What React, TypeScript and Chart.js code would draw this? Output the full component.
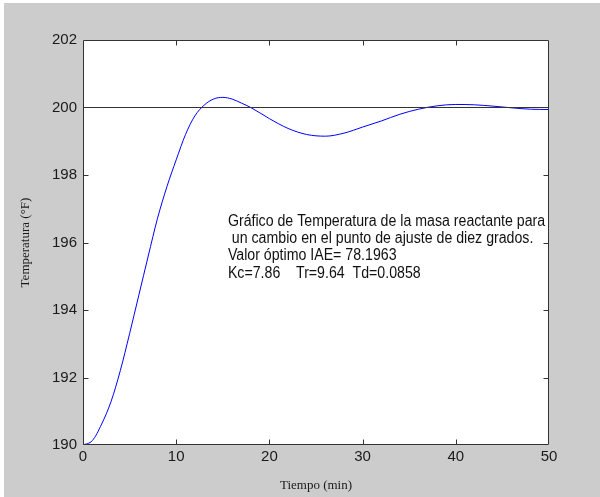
import React, { useEffect, useRef } from 'react';
import { Chart, registerables } from 'chart.js';

Chart.register(...registerables);

// ---- data ----
const timeMin = [0, 1, 2, 3, 4, 5, 6, 7, 8, 9, 10, 11, 12, 13, 14, 15, 16, 17, 18, 20, 22, 24, 26, 28, 30, 32, 34, 36, 38, 40, 42, 44, 46, 48, 50];
const temperatureF = [190.0, 190.13, 190.62, 191.28, 192.2, 193.3, 194.45, 195.6, 196.72, 197.65, 198.45, 199.2, 199.75, 200.07, 200.25, 200.3, 200.25, 200.13, 200.0, 199.67, 199.38, 199.2, 199.15, 199.24, 199.42, 199.6, 199.8, 199.95, 200.05, 200.09, 200.08, 200.04, 199.99, 199.95, 199.94];
const setpointTime = [0, 50];
const setpointValue = [200, 200];
const xTickValues = [0, 10, 20, 30, 40, 50];
const yTickValues = [190, 192, 194, 196, 198, 200, 202];
const xTitle = 'Tiempo (min)';
const yTitle = 'Temperatura (°F)';
const annotationLines = [
  'Gráfico de Temperatura de la masa reactante para',
  ' un cambio en el punto de ajuste de diez grados.',
  'Valor óptimo IAE= 78.1963',
  'Kc=7.86    Tr=9.64  Td=0.0858',
];
const annotationAnchorT = 15.55;
const annotationAnchorTemp = 196.5;

const SANS = "'Liberation Sans', Arial, sans-serif";
const SERIF = "'Liberation Serif', 'Times New Roman', serif";

const framePlugin = {
  id: 'matlabFrame',
  beforeDraw(chart: any) {
    const { ctx, width, height, chartArea } = chart;
    ctx.save();
    ctx.fillStyle = '#ffffff';
    ctx.fillRect(0, 0, width, height);
    ctx.fillStyle = '#cccccc';
    ctx.fillRect(4, 3, width - 4, height - 3);
    ctx.fillStyle = '#ffffff';
    ctx.fillRect(chartArea.left, chartArea.top, chartArea.right - chartArea.left, chartArea.bottom - chartArea.top);
    ctx.restore();
  },
  afterDatasetsDraw(chart: any) {
    const { ctx, chartArea, scales } = chart;
    const xs = scales.x;
    const ys = scales.y;
    const L = Math.round(chartArea.left) + 0.5;
    const R = Math.round(chartArea.right) - 0.5;
    const T = Math.round(chartArea.top) + 0.5;
    const B = Math.round(chartArea.bottom) - 0.5;
    ctx.save();
    ctx.strokeStyle = '#333333';
    ctx.lineWidth = 1;
    ctx.beginPath();
    ctx.rect(L, T, R - L, B - T);
    const tl = 5;
    xTickValues.forEach((v) => {
      if (v === xTickValues[0] || v === xTickValues[xTickValues.length - 1]) return;
      const px = Math.round(xs.getPixelForValue(v)) + 0.5;
      ctx.moveTo(px, B);
      ctx.lineTo(px, B - tl);
      ctx.moveTo(px, T);
      ctx.lineTo(px, T + tl);
    });
    yTickValues.forEach((v) => {
      if (v === yTickValues[0] || v === yTickValues[yTickValues.length - 1]) return;
      const py = Math.round(ys.getPixelForValue(v)) + 0.5;
      ctx.moveTo(L, py);
      ctx.lineTo(L + tl, py);
      ctx.moveTo(R, py);
      ctx.lineTo(R - tl, py);
    });
    ctx.stroke();

    // annotation text (slightly condensed, like the reference)
    ctx.fillStyle = '#111111';
    ctx.font = `16px ${SANS}`;
    ctx.textAlign = 'left';
    ctx.textBaseline = 'alphabetic';
    const ax = xs.getPixelForValue(annotationAnchorT);
    const ay = ys.getPixelForValue(annotationAnchorTemp);
    annotationLines.forEach((line, i) => {
      ctx.save();
      ctx.translate(ax, ay + i * 17.4);
      ctx.scale(0.885, 1);
      ctx.fillText(line, 0, 0);
      ctx.restore();
    });
    ctx.restore();
  },
};

export default function App() {
  const canvasRef = useRef<HTMLCanvasElement | null>(null);

  useEffect(() => {
    const canvas = canvasRef.current;
    if (!canvas) return;
    const chart = new Chart(canvas, {
      type: 'line',
      data: {
        datasets: [
          {
            label: 'Setpoint',
            data: setpointTime.map((t, i) => ({ x: t, y: setpointValue[i] })),
            borderColor: '#333333',
            borderWidth: 1,
            pointRadius: 0,
            fill: false,
          },
          {
            label: 'Temperatura',
            data: timeMin.map((t, i) => ({ x: t, y: temperatureF[i] })),
            borderColor: '#0000ff',
            borderWidth: 1,
            pointRadius: 0,
            fill: false,
            cubicInterpolationMode: 'monotone',
          },
        ],
      },
      options: {
        responsive: false,
        animation: false,
        devicePixelRatio: 1,
        layout: { padding: { top: 40, right: 51, left: 0, bottom: 0 } },
        plugins: {
          legend: { display: false },
          tooltip: { enabled: false },
          title: { display: false },
        },
        scales: {
          x: {
            type: 'linear',
            min: 0,
            max: 50,
            grid: { display: false, drawTicks: false },
            border: { display: false },
            afterBuildTicks: (s: any) => {
              s.ticks = xTickValues.map((v) => ({ value: v }));
            },
            afterFit: (s: any) => {
              s.height = 52;
            },
            ticks: {
              padding: 3,
              color: '#1a1a1a',
              font: { family: SANS, size: 15 },
              maxRotation: 0,
            },
            title: {
              display: true,
              text: xTitle,
              color: '#1a1a1a',
              font: { family: SERIF, size: 13 },
              padding: { top: 0, bottom: 4 },
            },
          },
          y: {
            type: 'linear',
            min: 190,
            max: 202,
            grid: { display: false, drawTicks: false },
            border: { display: false },
            afterBuildTicks: (s: any) => {
              s.ticks = yTickValues.map((v) => ({ value: v }));
            },
            afterFit: (s: any) => {
              s.width = 83;
            },
            ticks: {
              padding: 6,
              color: '#1a1a1a',
              font: { family: SANS, size: 15 },
            },
            title: {
              display: true,
              text: yTitle,
              color: '#1a1a1a',
              font: { family: SERIF, size: 13 },
              padding: { top: 18, bottom: 0 },
            },
          },
        },
      },
      plugins: [framePlugin],
    } as any);
    return () => chart.destroy();
  }, []);

  return (
    <div style={{ position: 'absolute', left: 0, top: 0, width: 600, height: 497 }}>
      <canvas ref={canvasRef} width={600} height={497} style={{ display: 'block', width: 600, height: 497 }} />
    </div>
  );
}
